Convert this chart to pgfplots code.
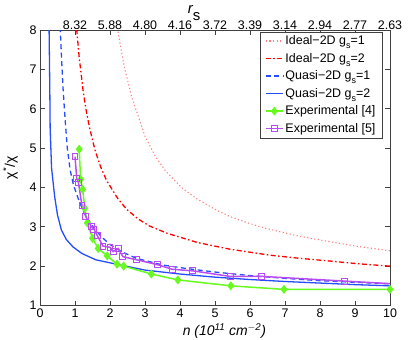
\documentclass[border=0pt]{standalone}
\usepackage{pgfplots}
\pgfplotsset{compat=1.18}
\usepackage{fontspec}
\setmainfont{Liberation Sans}

\definecolor{idealone}{rgb}{1,0.5,0.5}
\definecolor{idealtwo}{rgb}{1,0,0}
\definecolor{quasi}{rgb}{0.15,0.3,1}
\definecolor{expfour}{rgb}{0.4,0.98,0.12}
\definecolor{expfive}{rgb}{0.72,0.3,0.95}

\newcommand{\gs}{g\raisebox{-0.6ex}{\fontsize{9}{10}\selectfont s}}

\begin{document}
\begin{tikzpicture}
\useasboundingbox (-40bp,-34.5bp) rectangle (375bp,305.5bp);
\pgfplotsset{
  every axis/.append style={
    scale only axis, width=350bp, height=275.5bp,
    at={(0,0)}, anchor=south west,
    xmin=0, xmax=10, ymin=1, ymax=8,
    tick align=inside, major tick length=5bp,
    axis line style={black!75, line width=0.6pt},
    every tick/.style={black!75, line width=0.6pt},
    tick label style={font=\fontsize{12.5}{14}\selectfont},
    /pgf/number format/assume math mode=true,
  },
}
% top r_s axis
\begin{axis}[
  axis x line*=top, axis y line=none,
  xtick={1,2,...,10},
  xticklabels={8.32,5.88,4.80,4.16,3.72,3.39,3.14,2.94,2.77,2.63},
  xticklabel style={yshift=-3bp},
  xlabel={\fontsize{15}{16}\selectfont\itshape r\raisebox{-1.0ex}{\upshape s}},
  xlabel style={at={(axis description cs:0.44,1)}, anchor=base, yshift=17bp},
]
\end{axis}
\begin{axis}[
  xtick={0,1,...,10}, ytick={1,2,...,8},
  xtick pos=bottom, ytick pos=both,
  xlabel={\fontsize{14}{15}\selectfont\itshape n (10\textsuperscript{11} cm\textsuperscript{$-$2})},
  xlabel style={at={(axis description cs:0.527,0)}, anchor=base, yshift=-30bp},
  ylabel={\fontsize{14}{15}\selectfont χ\textsuperscript{*}/χ},
  ylabel style={at={(axis description cs:-0.085,0.5)}, anchor=center},
  legend cell align=left,
  legend image post style={line width=1.3pt},
  legend style={at={(axis description cs:0.979,0.994)}, anchor=north east,
    font=\fontsize{12.5}{13}\selectfont, draw=black!75,
    inner xsep=5bp, inner ysep=2bp, row sep=3bp},
]
\addplot[color=idealone, line width=1.1pt, dash pattern=on 1.2pt off 2.4pt] coordinates {
(2.15,8.5) (2.22,8.0) (2.4,7.1) (2.62,6.3) (3.0,5.3) (3.29,4.8) (3.6,4.4)
(4.08,3.97) (4.5,3.7) (5.03,3.43) (5.43,3.26) (6.0,3.08) (6.46,2.96)
(7.3,2.78) (8.28,2.62) (9.1,2.5) (10,2.39)};
\addlegendentry{Ideal−2D \gs=1}
\addplot[color=idealtwo, line width=1.3pt, dash pattern=on 5pt off 2.5pt on 1.5pt off 2.5pt] coordinates {
(1.0,8.6) (1.05,8.0) (1.12,7.3) (1.24,6.4) (1.33,5.9) (1.42,5.5) (1.57,4.95)
(1.72,4.55) (1.9,4.18) (2.22,3.72) (2.47,3.45) (2.8,3.2) (3.13,3.02)
(3.65,2.83) (4.5,2.6) (5.43,2.43) (6.56,2.28) (7.4,2.2) (8.28,2.13)
(9.1,2.06) (10,2.0)};
\addlegendentry{Ideal−2D \gs=2}
\addplot[color=quasi, line width=1.3pt, dash pattern=on 5pt off 3.5pt] coordinates {
(0.56,8.5) (0.58,8.0) (0.62,7.2) (0.66,6.5) (0.72,5.7) (0.78,5.0) (0.86,4.45)
(0.96,4.05) (1.14,3.6) (1.32,3.25) (1.52,3.0) (1.75,2.75) (2.0,2.55)
(2.35,2.36) (2.75,2.2) (3.5,2.03) (4.18,1.94) (5,1.85) (6,1.76) (7,1.69)
(8,1.63) (9,1.59) (10,1.55)};
\addlegendentry{Quasi−2D \gs=1}
\addplot[color=quasi, line width=1.3pt, solid] coordinates {
(0.25,8.5) (0.26,8) (0.28,6.5) (0.29,5.5) (0.33,4.5) (0.42,3.76) (0.5,3.3)
(0.61,2.92) (0.75,2.68) (0.94,2.49) (1.2,2.32) (1.6,2.16) (2.18,2.05)
(3,1.9) (4,1.8) (5,1.72) (6,1.66) (7,1.61) (8,1.57) (9,1.53) (10,1.50)};
\addlegendentry{Quasi−2D \gs=2}
\addplot[color=expfour, line width=1.5pt, mark=diamond*, mark size=3.4pt,
  mark options={solid, fill=expfour}] coordinates {
(1.12,4.97) (1.16,4.21) (1.22,3.95) (1.28,3.47) (1.35,3.10) (1.50,2.71)
(1.66,2.45) (1.92,2.26) (2.20,2.05) (2.39,2.00) (3.18,1.80) (3.94,1.65)
(5.45,1.50) (6.97,1.41) (10.0,1.41)};
\addlegendentry{Experimental [4]}
\addplot[color=expfive, line width=1.5pt, mark=square, mark size=3pt,
  mark options={solid, fill=white, line width=1pt}] coordinates {
(1.00,4.78) (1.05,4.23) (1.10,4.12) (1.20,3.53) (1.31,3.26) (1.47,3.00)
(1.54,2.94) (1.64,2.77) (1.80,2.51) (2.00,2.48) (2.09,2.37) (2.23,2.45)
(2.37,2.24) (2.77,2.16) (3.35,2.04) (3.78,1.92) (4.37,1.88) (5.43,1.74)
(6.33,1.74) (8.71,1.62) (10.5,1.53)};
\addlegendentry{Experimental [5]}
\end{axis}
\end{tikzpicture}
\end{document}
